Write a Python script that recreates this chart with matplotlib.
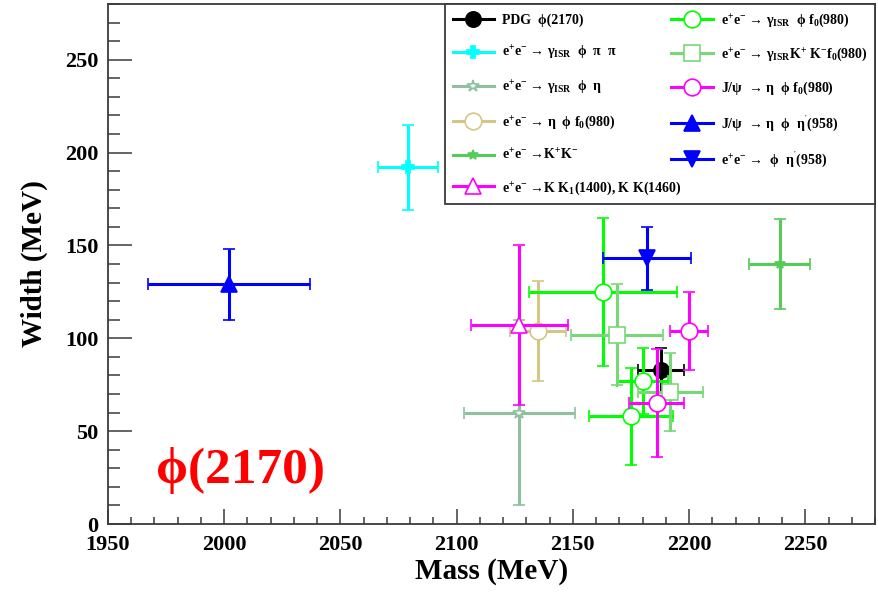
import matplotlib
matplotlib.use("Agg")
import matplotlib.pyplot as plt
import matplotlib.ticker as mt
from matplotlib.lines import Line2D

plt.rcParams['font.family'] = ['Liberation Serif', 'DejaVu Serif']
plt.rcParams['font.weight'] = 'bold'
plt.rcParams['mathtext.fontset'] = 'custom'
plt.rcParams['mathtext.rm'] = 'Liberation Serif:bold'
plt.rcParams['mathtext.it'] = 'Liberation Serif:bold'
plt.rcParams['mathtext.bf'] = 'Liberation Serif:bold'

# phi(2170) mass / width measurements, one entry per process
labels = [
    "PDG  ϕ(2170)",
    "e$^{+}$e$^{-}$ → γ$_{ISR}$  ϕ  π  π",
    "e$^{+}$e$^{-}$ → γ$_{ISR}$  ϕ  η",
    "e$^{+}$e$^{-}$ → η  ϕ f$_{0}$(980)",
    "e$^{+}$e$^{-}$ →K$^{+}$K$^{-}$",
    "e$^{+}$e$^{-}$ →K K$_{1}$(1400), K K(1460)",
    "e$^{+}$e$^{-}$ → γ$_{ISR}$  ϕ f$_{0}$(980)",
    "e$^{+}$e$^{-}$ → γ$_{ISR}$K$^{+}$ K$^{-}$f$_{0}$(980)",
    "J/ψ  → η  ϕ f$_{0}$(980)",
    "J/ψ  → η  ϕ  η$^{'}$(958)",
    "e$^{+}$e$^{-}$ →  ϕ  η$^{'}$(958)",
]
mass = [[2188], [2079], [2127], [2135], [2239], [2127],
        [2163, 2180, 2175], [2169, 2192], [2200, 2186], [2002], [2182]]
mass_err = [[10], [13], [24], [12], [13], [21],
            [32, 11, 18], [20, 14], [8, 12], [35], [19]]
width = [[83], [192], [60], [104], [140], [107],
         [125, 77, 58], [102, 71], [104, 65], [129], [143]]
width_err = [[12], [23], [50], [27], [24], [43],
             [40, 18, 26], [27, 21], [21, 29], [19], [17]]

# drawing style per process: colour, marker, size, filled
colors = ['black', '#00ffff', '#8fc0a0', '#d4c685', '#55cc55', '#ff00ff',
          '#00ff00', '#77d877', '#ff00ff', '#0000ff', '#0000ff']
markers = ['o', 'P', '*', 'o', '*', '^', 'o', 's', 'o', '^', 'v']
msizes = [11, 8, 9, 12, 7, 12, 12, 12, 12, 11, 11]
filled = [True, True, False, False, True, False, False, False, False, True, True]

fig = plt.figure(figsize=(8.79, 5.92), dpi=100)
ax = fig.add_axes([108 / 879, 68 / 592, 767 / 879, 520 / 592])

handles = []
for i in range(len(labels)):
    fc = colors[i] if filled[i] else 'white'
    ax.errorbar(mass[i], width[i], xerr=mass_err[i], yerr=width_err[i],
                fmt=markers[i], color=colors[i], mfc=fc, mec=colors[i],
                ms=msizes[i], mew=1.2, elinewidth=2.2, capsize=4, capthick=2.2,
                zorder=3 + i)
    handles.append(Line2D([], [], color=colors[i], lw=2.2, marker=markers[i],
                          ms=msizes[i], mfc=fc, mec=colors[i], mew=1.2))

ax.set_xlim(1950, 2280)
ax.set_ylim(0, 280)
ax.xaxis.set_major_locator(mt.MultipleLocator(50))
ax.xaxis.set_minor_locator(mt.MultipleLocator(10))
ax.yaxis.set_major_locator(mt.MultipleLocator(50))
ax.yaxis.set_minor_locator(mt.MultipleLocator(10))

edge = '#3a3a3a'
for s in ax.spines.values():
    s.set_color(edge)
    s.set_linewidth(1.3)
ax.tick_params(axis='y', which='major', direction='in', length=17, width=1.1,
               color=edge, labelsize=16, pad=7)
ax.tick_params(axis='y', which='minor', direction='in', length=8.5, width=1.1, color=edge)
ax.tick_params(axis='x', which='major', direction='in', length=10.5, width=1.1,
               color=edge, labelsize=16, pad=8)
ax.tick_params(axis='x', which='minor', direction='in', length=5.3, width=1.1, color=edge)
for lab in ax.get_xticklabels() + ax.get_yticklabels():
    lab.set_fontweight('bold')

ax.set_xlabel("Mass (MeV)", fontsize=21, fontweight='bold', labelpad=2)
ax.set_ylabel("Width (MeV)", fontsize=21, fontweight='bold', labelpad=12)

leg = ax.legend(handles, labels, ncol=2, loc='upper left',
                bbox_to_anchor=(0.4394, 0.625, 0.5606, 0.375), mode='expand',
                borderaxespad=0, fontsize=10, handlelength=3.0, handletextpad=0.55,
                labelspacing=1.2, borderpad=0.55, columnspacing=1.0,
                fancybox=False, framealpha=1, edgecolor=edge)
leg.get_frame().set_linewidth(1.3)

ax.text(0.1728, 0.079, "ϕ(2170)", transform=ax.transAxes, color='red',
        fontsize=37, fontweight='bold', ha='center', va='baseline')

fig.savefig("out.png", dpi=100)
